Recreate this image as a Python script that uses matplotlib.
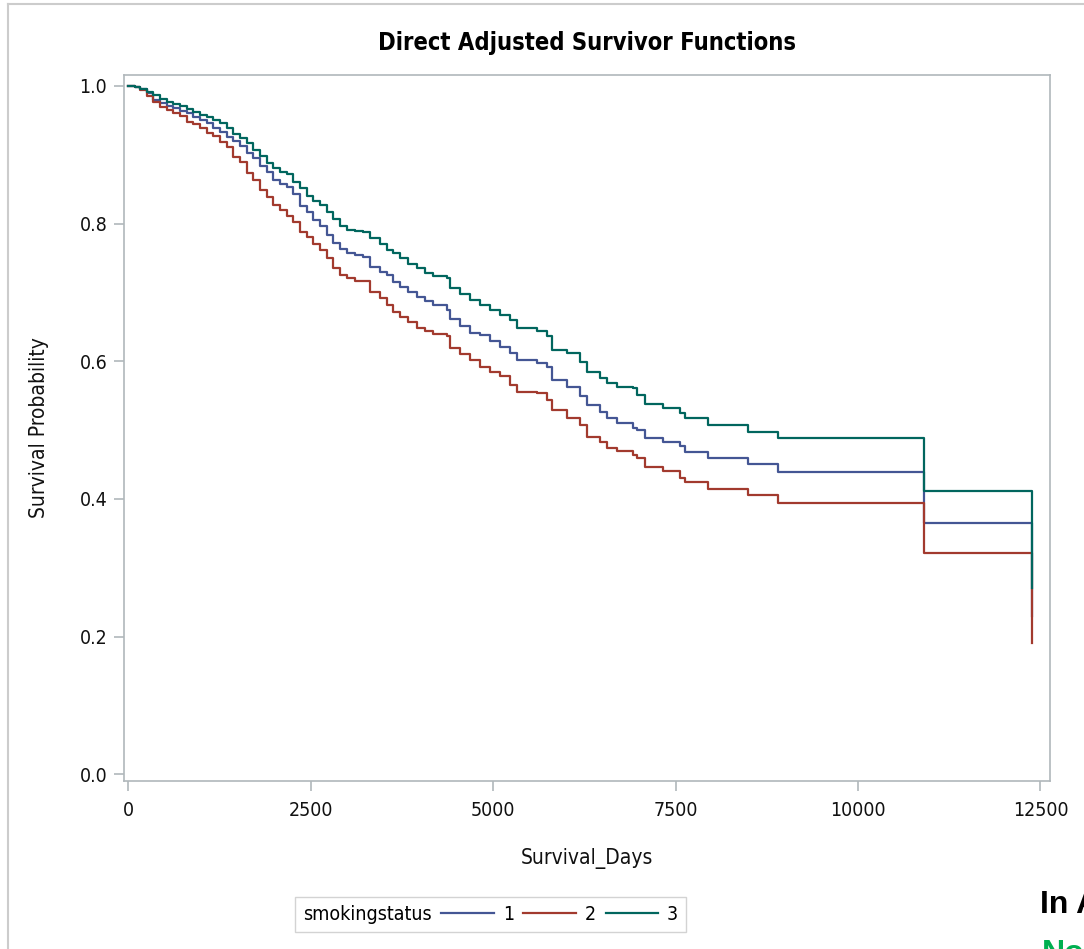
import matplotlib
matplotlib.use('Agg')
import matplotlib.pyplot as plt
from matplotlib.lines import Line2D

plt.rcParams['font.family'] = ['DejaVu Sans']
plt.rcParams['font.stretch'] = 'condensed'

# step times (days) shared by the three adjusted curves
days = [0, 90, 160, 260, 340, 430, 530, 610, 710, 800,
        890, 980, 1080, 1160, 1260, 1350, 1430, 1530, 1630, 1710,
        1800, 1900, 1980, 2080, 2170, 2260, 2350, 2450, 2530, 2630,
        2720, 2800, 2900, 3000, 3110, 3220, 3310, 3450, 3540, 3630,
        3720, 3830, 3960, 4070, 4180, 4370, 4410, 4550, 4680, 4820,
        4960, 5090, 5230, 5330, 5600, 5740, 5810, 6010, 6190, 6290,
        6460, 6560, 6700, 6920, 6970, 7080, 7330, 7560, 7630, 7940,
        8490, 8900, 10900, 12380]

surv_1 = [1.0, 0.999, 0.996, 0.990, 0.980, 0.975, 0.971, 0.968, 0.964, 0.961,
          0.955, 0.951, 0.946, 0.939, 0.933, 0.926, 0.920, 0.913, 0.902, 0.895,
          0.883, 0.875, 0.863, 0.858, 0.853, 0.843, 0.826, 0.817, 0.805, 0.797,
          0.784, 0.772, 0.763, 0.757, 0.754, 0.752, 0.737, 0.730, 0.725, 0.715,
          0.708, 0.701, 0.693, 0.688, 0.682, 0.675, 0.662, 0.651, 0.641, 0.638,
          0.630, 0.621, 0.612, 0.602, 0.597, 0.591, 0.573, 0.563, 0.549, 0.537,
          0.526, 0.517, 0.510, 0.503, 0.500, 0.488, 0.482, 0.477, 0.468, 0.460,
          0.451, 0.439, 0.365, 0.230]

surv_2 = [1.0, 0.998, 0.994, 0.985, 0.977, 0.969, 0.965, 0.961, 0.956, 0.948,
          0.945, 0.939, 0.931, 0.927, 0.919, 0.911, 0.897, 0.890, 0.873, 0.863,
          0.849, 0.839, 0.827, 0.820, 0.811, 0.802, 0.788, 0.781, 0.771, 0.762,
          0.750, 0.736, 0.725, 0.721, 0.717, 0.716, 0.701, 0.692, 0.682, 0.672,
          0.665, 0.657, 0.648, 0.644, 0.640, 0.636, 0.619, 0.611, 0.602, 0.592,
          0.584, 0.578, 0.566, 0.556, 0.554, 0.544, 0.529, 0.518, 0.507, 0.490,
          0.483, 0.474, 0.470, 0.464, 0.460, 0.446, 0.440, 0.431, 0.424, 0.415,
          0.405, 0.394, 0.321, 0.191]

surv_3 = [1.0, 0.999, 0.996, 0.991, 0.987, 0.981, 0.977, 0.974, 0.971, 0.967,
          0.962, 0.958, 0.955, 0.951, 0.946, 0.939, 0.930, 0.924, 0.917, 0.907,
          0.898, 0.888, 0.881, 0.875, 0.872, 0.861, 0.852, 0.840, 0.833, 0.827,
          0.817, 0.807, 0.797, 0.791, 0.789, 0.788, 0.779, 0.770, 0.762, 0.757,
          0.750, 0.741, 0.735, 0.728, 0.724, 0.721, 0.706, 0.698, 0.689, 0.682,
          0.675, 0.667, 0.660, 0.648, 0.644, 0.636, 0.616, 0.612, 0.599, 0.585,
          0.575, 0.568, 0.563, 0.561, 0.551, 0.538, 0.532, 0.525, 0.517, 0.508,
          0.497, 0.488, 0.411, 0.271]

groups = ['1', '2', '3']
colors = ['#445694', '#A23A2E', '#01665E']
xticks = [0, 2500, 5000, 7500, 10000, 12500]
yticks = [0.0, 0.2, 0.4, 0.6, 0.8, 1.0]

fig = plt.figure(figsize=(10.84, 9.49), dpi=100)
ax = fig.add_axes([0.1144, 0.1774, 0.8542, 0.7433])

for s, c, g in zip([surv_1, surv_2, surv_3], colors, groups):
    ax.step(days, s, where='post', color=c, lw=1.6, label=g)

ax.set_xlim(-59, 12630)
ax.set_ylim(-0.0093, 1.0155)
ax.set_xticks(xticks)
ax.set_xticklabels([str(t) for t in xticks])
ax.set_yticks(yticks)
ax.set_yticklabels(['%.1f' % t for t in yticks])

axcol = '#B0B7BB'
for sp in ax.spines.values():
    sp.set_color(axcol)
    sp.set_linewidth(1.2)
ax.tick_params(colors=axcol, labelcolor='#111111', labelsize=14, length=7, width=1.2)
ax.tick_params(axis='x', pad=8)
ax.tick_params(axis='y', pad=5)

ax.set_xlabel('Survival_Days', fontsize=15, color='#111111', labelpad=20)
ax.set_ylabel('Survival Probability', fontsize=15, color='#111111', labelpad=22)
ax.set_title('Direct Adjusted Survivor Functions', fontsize=17, fontweight='bold', pad=18)

leg = fig.legend(loc='center', bbox_to_anchor=(0.4525, 0.0364), ncol=3,
                 title='smokingstatus', title_fontsize=14, fontsize=14,
                 frameon=True, fancybox=False, edgecolor='#C8C8C8',
                 handlelength=2.7, handletextpad=0.45, columnspacing=0.5,
                 borderpad=0.4)
leg.get_frame().set_linewidth(1.0)
# put the title to the left of the entries, like SAS
box = leg.get_children()[0]
title_box = box.get_children()[0]
hpack = box.get_children()[1]
box._children = [hpack]
hpack._children = [title_box] + hpack.get_children()

# screenshot border and the cut-off page text
fig.add_artist(Line2D([8 / 1084, 8 / 1084], [0, 1 - 4 / 949], transform=fig.transFigure,
                      color='#CCCCCC', lw=1.5))
fig.add_artist(Line2D([8 / 1084, 1], [1 - 4 / 949, 1 - 4 / 949], transform=fig.transFigure,
                      color='#CCCCCC', lw=1.5))
fig.text(1040 / 1084, 1 - 913 / 949, 'In A', fontsize=23, fontweight='bold',
         family=['Liberation Sans', 'DejaVu Sans'], fontstretch='normal',
         color='black', ha='left', va='baseline')
fig.text(1042 / 1084, 1 - 962 / 949, 'No', fontsize=23, fontweight='bold',
         family=['Liberation Sans', 'DejaVu Sans'], fontstretch='normal',
         color='#00B050', ha='left', va='baseline')

fig.savefig('out.png', dpi=100)
